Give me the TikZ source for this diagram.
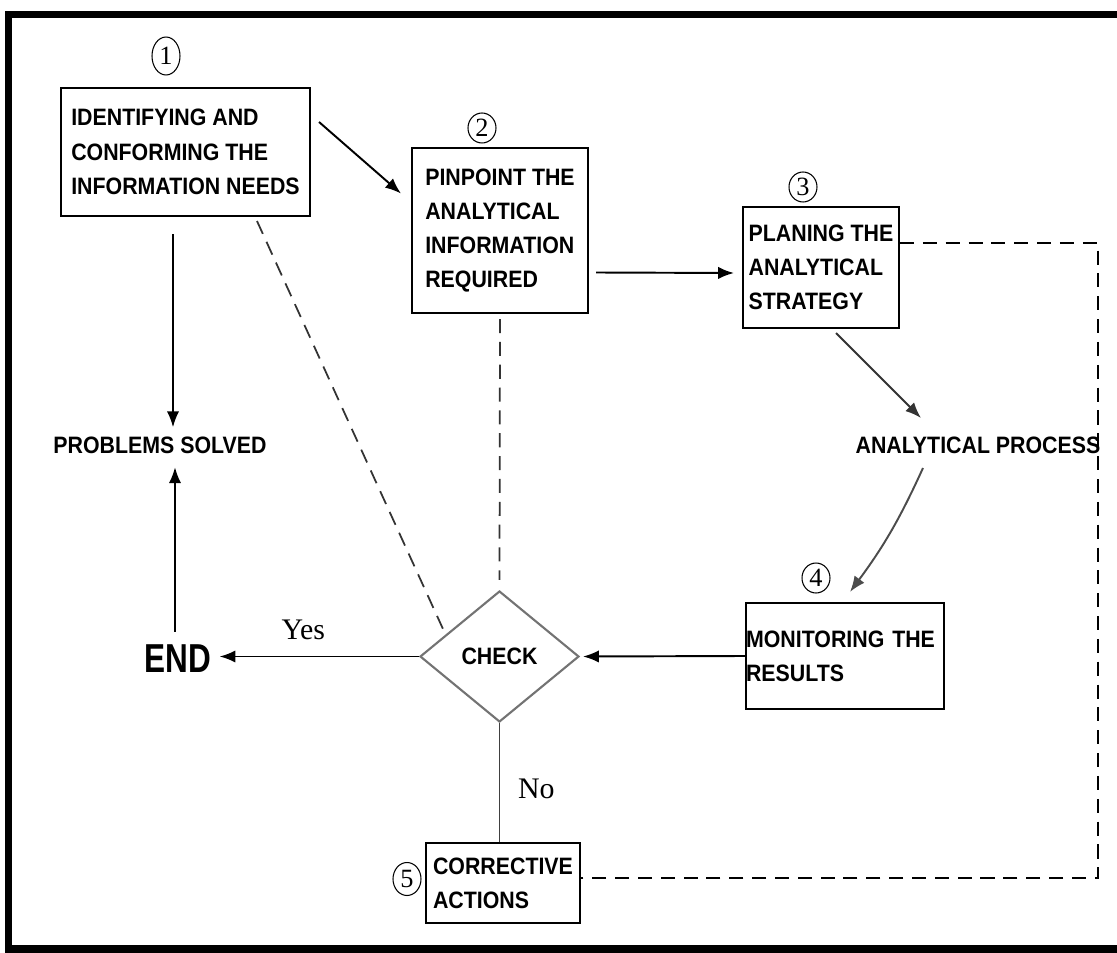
\documentclass[tikz,border=0pt]{standalone}
\usepackage{fontspec}
\setmainfont{Liberation Serif}
\newfontfamily\boxfont{Liberation Sans}[FakeStretch=0.9]
\newfontfamily\endfont{Liberation Sans}[FakeStretch=0.78]
\usetikzlibrary{shapes.geometric,arrows.meta,calc}

\begin{document}
\begin{tikzpicture}[
    x=0.02cm, y=-0.02cm,
    stepbox/.style={rectangle, draw=black, line width=1.2pt, align=left, inner sep=0pt, font=\boxfont\bfseries\fontsize{13.5}{19.5}\selectfont},
    decision/.style={diamond, draw=black!55, line width=1.2pt, minimum width=3.18cm, minimum height=2.62cm, inner sep=0pt, font=\boxfont\bfseries\fontsize{13.5}{19.5}\selectfont},
    plaintxt/.style={inner sep=0pt, font=\boxfont\bfseries\fontsize{13.5}{19.5}\selectfont},
    endtxt/.style={inner sep=0pt, font=\endfont\bfseries\fontsize{23}{23}\selectfont},
    answer/.style={inner sep=0pt, text=black, font=\fontsize{17}{17}\selectfont},
    stepnum/.style={ellipse, draw=black, line width=0.6pt, inner sep=0pt, minimum width=0.56cm, minimum height=0.6cm, font=\fontsize{15}{15}\selectfont},
    arrow/.style={line width=1.1pt, -{Latex[length=9pt, width=7pt]}},
    dashline/.style={line width=1pt, dash pattern=on 8pt off 5pt}
]

% Page and frame
\useasboundingbox (0,0) rectangle (1117,953);
\clip (0,0) rectangle (1117,953);
\draw[line width=4.5pt] (1140,14.5) -- (8.5,14.5) -- (8.5,949) -- (1140,949);

% Process boxes
\node[stepbox, minimum width=4.98cm, minimum height=2.56cm] (identify) at (185.5,152) {IDENTIFYING AND\\CONFORMING THE\\INFORMATION NEEDS};
\node[stepbox, minimum width=3.52cm, minimum height=3.3cm] (pinpoint) at (500,230.5) {PINPOINT THE\\ANALYTICAL\\INFORMATION\\REQUIRED};
\node[stepbox, minimum width=3.12cm, minimum height=2.42cm] (planing) at (821,267.5) {PLANING THE\\ANALYTICAL\\STRATEGY};
\node[stepbox, minimum width=3.96cm, minimum height=2.12cm, text width=3.96cm] (monitor) at (845,656) {MONITORING THE\\RESULTS\\[8pt]};
\node[stepbox, minimum width=3.08cm, minimum height=1.6cm] (corrective) at (503,883) {CORRECTIVE\\ACTIONS};
\node[decision] (check) at (499.5,656.5) {CHECK};

% Free labels
\node[plaintxt] (solved) at (160,445) {PROBLEMS SOLVED};
\node[plaintxt] (process) at (978,445) {ANALYTICAL PROCESS};
\node[endtxt] (finish) at (178,659) {END};

% Step numbers
\node[stepnum, minimum height=0.76cm] (num1) at (166,56) {1};
\node[stepnum] (num2) at (482,128) {2};
\node[stepnum] (num3) at (803,187) {3};
\node[stepnum] (num4) at (816,578) {4};
\node[stepnum, minimum height=0.66cm] (num5) at (407,879) {5};

% Main flow
\draw[arrow] ([shift={(8,-30)}]identify.east) -- ([shift={(-10,-37)}]pinpoint.west);
\draw[arrow] ([shift={(7,42)}]pinpoint.east) -- ([shift={(-8,5.5)}]planing.west);
\draw[arrow, black!80] ([shift={(15,4)}]planing.south) -- ([shift={(-57,-27)}]process.center);
\draw[arrow, black!70] ([shift={(-55,23)}]process.center) to[bend left=6] ([shift={(5,-10)}]monitor.north);
\draw[arrow] (monitor.west) -- ([shift={(3,0)}]check.east);
\draw[arrow] (check.west) -- node[answer, above=9pt, pos=0.58] (yes) {Yes} ($(check.west -| finish.east)+(8,0)$);
\draw[line width=1.1pt, black!75] (check.south) -- node[answer, right=10pt, pos=0.55] (no) {No} (check.south |- corrective.north);

% To problems solved
\draw[arrow] ([shift={(-12.5,17)}]identify.south) -- ([shift={(13,-9)}]solved.north);
\draw[arrow] ([shift={(-3,-13)}]finish.north) -- ([shift={(15,13.5)}]solved.south);

% Feedback (dashed)
\draw[dashline, black!80] ([shift={(71.5,4)}]identify.south) -- ($(check.west)!0.33!(check.north)$);
\draw[dashline, black!80] ([shift={(0,5)}]pinpoint.south) -- ([shift={(0,-10)}]check.north);
\coordinate (loop_corner) at (1098,878);
\draw[dashline] ([shift={(0,-24.5)}]planing.east) -| (loop_corner) -- ([shift={(0,-5)}]corrective.east);

\end{tikzpicture}
\end{document}
